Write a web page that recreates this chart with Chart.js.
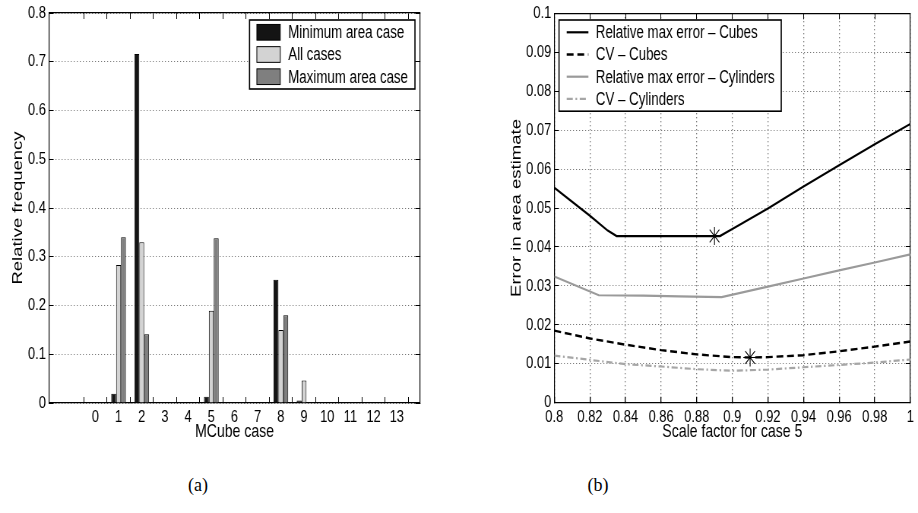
<!DOCTYPE html>
<html><head><meta charset="utf-8">
<script src="https://cdn.jsdelivr.net/npm/chart.js@4.4.1/dist/chart.umd.min.js"></script>
<style>
html,body{margin:0;padding:0;background:#fff;width:918px;height:513px;overflow:hidden;position:relative}
canvas{position:absolute;top:0}
.cap{position:absolute;font-family:"Liberation Serif","DejaVu Serif",serif;font-size:18px;line-height:20px;top:475px;width:40px;text-align:center;color:#000}
</style></head><body>
<canvas id="c1" width="604" height="460" style="left:0px;width:459px;height:460px"></canvas>
<canvas id="c2" width="604" height="460" style="left:459px;width:459px;height:460px"></canvas>
<div class="cap" style="left:178px">(a)</div>
<div class="cap" style="left:578px">(b)</div>
<script>
// ---------- data (a) ----------
const caseLabels  = [0,1,2,3,4,5,6,7,8,9,10,11,12,13];
const minAreaCase = [0,0.019,0.716,0,0,0.013,0,0,0.253,0.005,0,0,0,0];
const allCases    = [0,0.283,0.330,0.001,0,0.189,0,0,0.150,0.046,0,0.001,0,0];
const maxAreaCase = [0,0.340,0.141,0.001,0,0.338,0,0,0.180,0.001,0,0,0,0];
const freqTicks   = [0,0.1,0.2,0.3,0.4,0.5,0.6,0.7,0.8];

// ---------- data (b) ----------
const maxCubesX = [0.80,0.81,0.82,0.83,0.835,0.85,0.87,0.89,0.893,0.90,0.92,0.94,0.96,0.98,1.00];
const maxCubesY = [0.0552,0.0516,0.0480,0.0442,0.0428,0.0428,0.0428,0.0428,0.0428,0.0446,0.0499,0.0555,0.0610,0.0664,0.0716];
const cvCubesX  = [0.80,0.82,0.84,0.86,0.88,0.90,0.91,0.92,0.94,0.96,0.98,1.00];
const cvCubesY  = [0.0185,0.0165,0.0149,0.0135,0.0124,0.0117,0.0116,0.0117,0.0122,0.0132,0.0144,0.0157];
const maxCylX   = [0.80,0.825,0.85,0.87,0.894,0.92,0.94,0.96,0.98,1.00];
const maxCylY   = [0.0324,0.0276,0.0275,0.0273,0.0271,0.0298,0.0319,0.0340,0.0360,0.0381];
const cvCylX    = [0.80,0.82,0.84,0.86,0.88,0.90,0.92,0.94,0.96,0.98,1.00];
const cvCylY    = [0.0121,0.0110,0.0099,0.0093,0.0086,0.0082,0.0085,0.0091,0.0097,0.0103,0.0111];
const optimumX  = [0.89,0.91];
const optimumY  = [0.0428,0.0116];
const scaleTicks = [0.80,0.82,0.84,0.86,0.88,0.90,0.92,0.94,0.96,0.98,1.00];
const errTicks   = [0,0.01,0.02,0.03,0.04,0.05,0.06,0.07,0.08,0.09,0.10];

// ---------- styling ----------
const SQ = 0.76; // horizontal squeeze of the canvases (css width / canvas width)
const FONT = '"Liberation Sans", Arial, Helvetica, sans-serif';
const tickFont = {family: FONT, size: 17};
const titleFont = {family: FONT, size: 18.5};
const fmt = v => String(+Number(v).toFixed(4));

const frameLegend = {
  id: 'frameLegend',
  afterDraw(chart, args, o) {
    const ctx = chart.ctx, ca = chart.chartArea;
    const items = chart.data.datasets.filter(d => !d.hideInLegend);
    ctx.save();
    ctx.font = o.font;
    const tw = Math.max(...items.map(d => ctx.measureText(d.label).width));
    const w = o.padL + o.swW + o.gap + tw + o.padR;
    const h = o.padT * 2 + o.row * (items.length - 1);
    const x = o.anchor === 'right' ? ca.right - o.dx - w : ca.left + o.dx;
    const y = ca.top + o.dy;
    ctx.fillStyle = '#fff'; ctx.fillRect(x, y, w, h);
    ctx.lineWidth = 1.6; ctx.strokeStyle = '#000'; ctx.strokeRect(x, y, w, h);
    items.forEach((d, i) => {
      const cy = y + o.padT + i * o.row;
      const sx = x + o.padL;
      if (o.kind === 'box') {
        ctx.fillStyle = d.backgroundColor;
        ctx.fillRect(sx, cy - o.swH / 2, o.swW, o.swH);
        ctx.lineWidth = 1; ctx.strokeStyle = '#000';
        ctx.strokeRect(sx, cy - o.swH / 2, o.swW, o.swH);
      } else {
        ctx.setLineDash(d.borderDash || []);
        ctx.lineWidth = d.borderWidth; ctx.strokeStyle = d.borderColor;
        ctx.beginPath(); ctx.moveTo(sx, cy); ctx.lineTo(sx + o.swW, cy); ctx.stroke();
        ctx.setLineDash([]);
      }
      ctx.fillStyle = '#000'; ctx.textBaseline = 'middle'; ctx.textAlign = 'left';
      ctx.fillText(d.label, sx + o.swW + o.gap, cy + 1);
    });
    ctx.restore();
  }
};

function fixSize(prop, val) {
  return function (sc) { sc[prop] = val; sc.paddingLeft = 0; sc.paddingRight = 0; sc.paddingTop = 0; sc.paddingBottom = 0; };
}
function setTicks(arr) { return a => { a.ticks = arr.map(v => ({value: v})); }; }

function frameAxis(pos, min, max, arr, size) {
  return {
    type: 'linear', position: pos, min, max, offset: false,
    afterBuildTicks: setTicks(arr),
    ticks: {display: false},
    grid: {drawOnChartArea: false, drawTicks: true, tickLength: -6, tickColor: '#000', tickWidth: 1},
    border: {display: true, color: '#000', width: 1.2},
    afterFit: fixSize(pos === 'top' ? 'height' : 'width', size)
  };
}

// ---------- chart (a) ----------
const mk = vals => caseLabels.map((c, i) => ({x: c, y: vals[i]}));
new Chart(document.getElementById('c1'), {
  type: 'bar',
  data: {datasets: [
    {label: 'Minimum area case', data: mk(minAreaCase), backgroundColor: '#141414', borderColor: '#000', borderWidth: 1},
    {label: 'All cases', data: mk(allCases), backgroundColor: '#d3d3d3', borderColor: '#000', borderWidth: 1},
    {label: 'Maximum area case', data: mk(maxAreaCase), backgroundColor: '#7f7f7f', borderColor: '#000', borderWidth: 1}
  ]},
  options: {
    responsive: false, animation: false, events: [],
    datasets: {bar: {categoryPercentage: 0.634, barPercentage: 1}},
    layout: {padding: {left: 0, top: 13, right: 604 - 420 / SQ, bottom: 0}},
    plugins: {
      legend: {display: false}, tooltip: {enabled: false},
      frameLegend: {kind: 'box', anchor: 'right', dx: 5 / SQ, dy: 7, padL: 7.3 / SQ, swW: 23.4 / SQ, swH: 15.7,
        gap: 8 / SQ, padR: 7 / SQ, padT: 12.3, row: 22.2, font: '17.5px ' + FONT}
    },
    scales: {
      x: {
        type: 'linear', position: 'bottom', min: -2, max: 14, offset: false,
        afterBuildTicks: setTicks(caseLabels),
        ticks: {font: tickFont, color: '#000', padding: 10, autoSkip: false, maxRotation: 0, callback: fmt},
        grid: {drawOnChartArea: false, drawTicks: true, tickLength: -6, tickColor: '#000'},
        border: {display: true, color: '#000', width: 1.2},
        title: {display: true, text: 'MCube case', font: titleFont, color: '#000', padding: {top: 0, bottom: 16.5}},
        afterFit: fixSize('height', 57)
      },
      x2: frameAxis('top', -2, 14, caseLabels, 0),
      y: {
        type: 'linear', position: 'left', min: 0, max: 0.8,
        afterBuildTicks: setTicks(freqTicks),
        ticks: {font: tickFont, color: '#000', padding: 10, callback: fmt},
        grid: {drawOnChartArea: true, color: '#555', lineWidth: 1, drawTicks: true, tickLength: -6, tickColor: '#000'},
        border: {display: true, color: '#000', width: 1.2, dash: [1, 3]},
        title: {display: true, text: 'Relative frequency', font: titleFont, color: '#000', padding: {top: 13.2, bottom: 0}},
        afterFit: fixSize('width', 49 / SQ)
      },
      y2: frameAxis('right', 0, 0.8, freqTicks, 0)
    }
  },
  plugins: [frameLegend]
});

// ---------- chart (b) ----------
const toXY = (xs, ys) => xs.map((x, i) => ({x, y: ys[i]}));
new Chart(document.getElementById('c2'), {
  type: 'line',
  data: {datasets: [
    {label: 'optimum', hideInLegend: true, data: toXY(optimumX, optimumY), showLine: false,
     pointStyle: 'star', pointRadius: 9, pointBorderColor: '#000', pointBorderWidth: 1.1, borderColor: '#000'},
    {label: 'Relative max error \u2013 Cubes', data: toXY(maxCubesX, maxCubesY), borderColor: '#000', borderWidth: 2.2, pointRadius: 0, borderDash: []},
    {label: 'CV \u2013 Cubes', data: toXY(cvCubesX, cvCubesY), borderColor: '#000', borderWidth: 2.4, pointRadius: 0, borderDash: [9, 5]},
    {label: 'Relative max error \u2013 Cylinders', data: toXY(maxCylX, maxCylY), borderColor: '#9a9a9a', borderWidth: 2.2, pointRadius: 0, borderDash: []},
    {label: 'CV \u2013 Cylinders', data: toXY(cvCylX, cvCylY), borderColor: '#a6a6a6', borderWidth: 2.2, pointRadius: 0, borderDash: [8, 3.5, 2.2, 3.5]}
  ]},
  options: {
    responsive: false, animation: false, events: [],
    elements: {line: {tension: 0}},
    layout: {padding: {left: 0, top: 13.3, right: 604 - 456.3 / SQ, bottom: 0}},
    plugins: {
      legend: {display: false}, tooltip: {enabled: false},
      frameLegend: {kind: 'line', anchor: 'left', dx: 4.7 / SQ, dy: 6.7, padL: 7.7 / SQ, swW: 21.7 / SQ, swH: 0,
        gap: 7.4 / SQ, padR: 6.6 / SQ, padT: 12.3, row: 22.2, font: '17.5px ' + FONT}
    },
    scales: {
      x: {
        type: 'linear', position: 'bottom', min: 0.8, max: 1.0, offset: false,
        afterBuildTicks: setTicks(scaleTicks),
        ticks: {font: tickFont, color: '#000', padding: 10, autoSkip: false, maxRotation: 0, callback: fmt},
        grid: {drawOnChartArea: true, color: '#555', lineWidth: 1.3, drawTicks: true, tickLength: -6, tickColor: '#000'},
        border: {display: true, color: '#000', width: 1.2, dash: [1, 3]},
        title: {display: true, text: 'Scale factor for case 5', font: titleFont, color: '#000', padding: {top: 0, bottom: 16.5}},
        afterFit: fixSize('height', 57.3)
      },
      x2: frameAxis('top', 0.8, 1.0, scaleTicks, 0),
      y: {
        type: 'linear', position: 'left', min: 0, max: 0.1,
        afterBuildTicks: setTicks(errTicks),
        ticks: {font: tickFont, color: '#000', padding: 10, callback: fmt},
        grid: {drawOnChartArea: true, color: '#555', lineWidth: 1, drawTicks: true, tickLength: -6, tickColor: '#000'},
        border: {display: true, color: '#000', width: 1.2, dash: [1, 3]},
        title: {display: true, text: 'Error in area estimate', font: titleFont, color: '#000', padding: {top: 65.2, bottom: 0}},
        afterFit: fixSize('width', 95.3 / SQ)
      },
      y2: frameAxis('right', 0, 0.1, errTicks, 0)
    }
  },
  plugins: [frameLegend]
});
</script>
</body></html>
